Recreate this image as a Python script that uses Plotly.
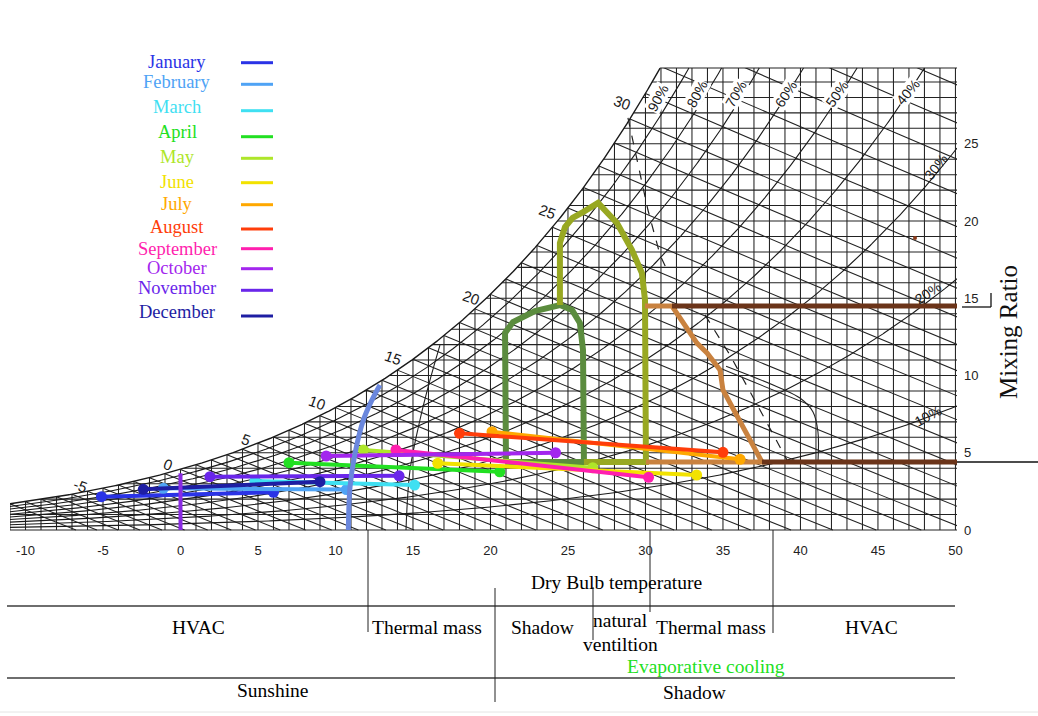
import numpy as np
import plotly.graph_objects as go

# ---------------- data ----------------
MONTHS = ["January", "February", "March", "April", "May", "June", "July",
          "August", "September", "October", "November", "December"]
MONTH_COLORS = ["#2a33e6", "#4fa3f5", "#3fe0f2", "#22e022", "#aee62a", "#f2e200",
                "#ffa800", "#ff3d0a", "#ff1fae", "#a326ee", "#6a26ea", "#1e1ea3"]
T_LOW = [-5.1, -1.1, 4.8, 7.0, 11.8, 16.6, 20.1, 18.0, 13.9, 9.4, 1.9, -2.4]
W_LOW = [2.16, 2.70, 3.17, 4.36, 5.18, 4.32, 6.36, 6.26, 5.18, 4.79, 3.45, 2.63]
T_HIGH = [6.0, 10.7, 15.1, 20.6, 26.6, 33.3, 36.1, 35.0, 30.2, 24.2, 14.1, 9.0]
W_HIGH = [2.44, 2.62, 2.91, 3.77, 4.03, 3.56, 4.58, 5.03, 3.41, 5.00, 3.51, 3.13]

X_TICKS = list(range(-10, 51, 5))
Y_TICKS = [0, 5, 10, 15, 20, 25]
RH_LEVELS = [10, 20, 30, 40, 50, 60, 70, 80, 90]
WB_LABELS = [-5, 0, 5, 10, 15, 20, 25, 30]

# design zones (dry bulb C, mixing ratio g/kg)
GREEN_T = [21.0, 20.94, 21.45, 22.87, 24.48, 25.26, 25.77, 25.97, 26.03, 21.0]
GREEN_W = [4.40, 12.75, 13.46, 14.17, 14.56, 14.24, 13.40, 11.65, 4.40, 4.40]
OLIVE_T = [24.48, 24.48, 24.81, 25.30, 25.97, 26.94, 28.16, 29.13, 29.77, 29.97, 30.03, 26.03]
OLIVE_W = [14.56, 18.58, 19.61, 20.20, 20.58, 21.17, 19.87, 18.12, 16.63, 14.89, 4.40, 4.40]
TAN_T = [29.97, 31.71, 33.32, 33.97, 34.81, 35.0, 37.52, 30.03]
TAN_W = [14.50, 14.50, 12.10, 11.46, 10.36, 9.06, 4.40, 4.40]
BROWN_UPPER = [31.71, 50.1, 14.5]   # t0, t1, w
BROWN_LOWER = [37.52, 50.1, 4.4]
BLUE_CURVE_T = [10.83, 10.94, 11.26, 11.80, 12.35, 12.87]
BLUE_CURVE_W = [0.0, 2.80, 4.96, 7.12, 8.41, 9.39]
FREEZE_T = [0, 0]
FREEZE_W = [0, 3.67]

# thin lines printed on the original chart
CURVE_A_T = [16.74, 16.10, 15.45, 14.81, 14.55]
CURVE_A_W = [11.97, 9.71, 7.12, 3.88, 0.0]
CURVE_B_T = [35.2, 38.68, 39.97, 40.81, 41.13, 41.13]
CURVE_B_W = [10.6, 9.19, 8.54, 7.64, 6.34, 4.40]
DASH_C_T = [33.84, 35.45, 37.39, 39.13]
DASH_C_W = [13.92, 11.33, 7.77, 4.53]
DASH_D_T = [28.87, 29.45, 30.16, 30.94, 31.45]
DASH_D_W = [26.67, 23.95, 20.71, 17.80, 16.70]

P_ATM = 97.5     # kPa, chart pressure
W_TOP = 29.9     # top edge of chart
T_MIN, T_MAX = -11.0, 50.1


def pws(t):
    t = np.asarray(t, dtype=float)
    return 0.61094 * np.exp(17.625 * t / (t + 243.04))


def w_of(t, phi=1.0):
    p = phi * pws(t)
    return 622.0 * p / (P_ATM - p)


def clip_top(t, w):
    keep = w <= W_TOP
    tt, ww = list(t[keep]), list(w[keep])
    if not keep.all():
        tt.append(float(np.interp(W_TOP, w, t)))
        ww.append(W_TOP)
    return tt, ww


W_, H_ = 1038, 716
L_, R_ = 10, 81


def PX(px):
    return (px - L_) / (W_ - L_ - R_)


def PY(py):
    return (H_ - py) / H_


fig = go.Figure()
GRID = dict(color="#222222", width=1.05)


def add_line(x, y, **kw):
    fig.add_trace(go.Scatter(x=x, y=y, mode="lines", hoverinfo="skip",
                             showlegend=False, **kw))


# grid: dry-bulb verticals & mixing-ratio horizontals
gx, gy = [], []
for t in range(-11, 51):
    gx += [t, t, None]
    gy += [0, W_TOP, None]
for w in range(0, 30):
    gx += [T_MIN, T_MAX, None]
    gy += [w, w, None]
add_line(gx, gy, line=GRID)

# wet-bulb lines
wx, wy = [], []
for tw in range(-11, 36):
    ws = float(w_of(tw))
    t0 = tw + (2501 - 2.326 * tw) * ws / 1000 / 1.006
    t = np.linspace(tw, min(t0, T_MAX + 0.5), 14)
    w = ((2501 - 2.326 * tw) * ws / 1000 - 1.006 * (t - tw)) / (2501 + 1.86 * t - 4.186 * tw) * 1000
    wx += list(t) + [None]
    wy += list(np.maximum(w, 0)) + [None]
add_line(wx, wy, line=GRID)

# white mask above saturation
ts = np.arange(T_MIN, 32, 0.05)
st, sw = clip_top(ts, w_of(ts))
mx = [T_MIN - 1] + st + [T_MAX + 1, T_MAX + 1, T_MIN - 1]
my = [sw[0]] + sw + [W_TOP, 40, 40]
fig.add_trace(go.Scatter(x=mx, y=my, mode="lines", fill="toself", fillcolor="white",
                         line=dict(width=0, color="white"), hoverinfo="skip", showlegend=False))
add_line(st, sw, line=dict(color="#1a1a1a", width=1.4))
add_line([st[-1], T_MAX], [W_TOP, W_TOP], line=GRID)

# relative humidity curves
tr = np.arange(T_MIN, T_MAX + 0.001, 0.1)
for rh in RH_LEVELS:
    a, b = clip_top(tr, w_of(tr, rh / 100))
    add_line(a, b, line=dict(color="#1a1a1a", width=1.1))

# thin printed lines
add_line(CURVE_A_T, CURVE_A_W, line=dict(color="#222", width=1.1, shape="spline"))
add_line(CURVE_B_T, CURVE_B_W, line=dict(color="#222", width=1.1, shape="spline"))
add_line(DASH_C_T, DASH_C_W, line=dict(color="#222", width=1.2, dash="dash"))
add_line(DASH_D_T, DASH_D_W, line=dict(color="#222", width=1.2, dash="dash"))

# zones
add_line(GREEN_T, GREEN_W, line=dict(color="#5b8c3e", width=6))
add_line(OLIVE_T, OLIVE_W, line=dict(color="#98a822", width=6))
add_line(TAN_T, TAN_W, line=dict(color="#c9823f", width=5))
for t0, t1, w in (BROWN_UPPER, BROWN_LOWER):
    add_line([t0, t1], [w, w], line=dict(color="#6b3419", width=5))

# monthly lines
for i, m in enumerate(MONTHS):
    fig.add_trace(go.Scatter(x=[T_LOW[i], T_HIGH[i]], y=[W_LOW[i], W_HIGH[i]],
                             mode="lines+markers", name=m, showlegend=False,
                             line=dict(color=MONTH_COLORS[i], width=4),
                             marker=dict(color=MONTH_COLORS[i], size=11)))

add_line(BLUE_CURVE_T, BLUE_CURVE_W, line=dict(color="#6a87dd", width=5, shape="spline"))
add_line(FREEZE_T, FREEZE_W, line=dict(color="#8a2be2", width=4))
fig.add_trace(go.Scatter(x=[47.39], y=[18.9], mode="markers", hoverinfo="skip", showlegend=False,
                         marker=dict(color="#8b3a1a", size=4)))

shapes, ann = [], []
SERIF = "Liberation Serif, Times New Roman, serif"
SANS = "Liberation Sans, Arial, sans-serif"


def text(px, py, s, size, color="#000", family=SERIF, angle=0, bg=None):
    d = dict(x=PX(px), y=PY(py), text=s, showarrow=False, xref="paper", yref="paper",
             xanchor="center", yanchor="middle", textangle=angle,
             font=dict(family=family, size=size, color=color))
    if bg:
        d.update(bgcolor=bg, borderpad=0)
    ann.append(d)


# legend
LEG_Y = [62.7, 84.3, 110.7, 136.7, 158.3, 182.7, 204.7, 229, 248.7, 268.7, 290.3, 316]
TXT_Y = [61.7, 81.7, 106.7, 131.7, 156.7, 181.7, 204, 226.7, 249.3, 268.3, 288.3, 311.7]
for i, m in enumerate(MONTHS):
    text(177, TXT_Y[i], m, 18.5, MONTH_COLORS[i])
    shapes.append(dict(type="line", xref="paper", yref="paper", x0=PX(241), x1=PX(273),
                       y0=PY(LEG_Y[i]), y1=PY(LEG_Y[i]), line=dict(color=MONTH_COLORS[i], width=3)))

# wet bulb labels on saturation curve
WB_POS = [(80, 485), (168, 464), (246, 439), (317, 402), (393, 357), (471, 297), (547, 212), (622, 102)]
for lab, (px, py) in zip(WB_LABELS, WB_POS):
    text(px, py, str(lab), 15, "#1a1a1a", SANS, 20)

RH_POS = {90: (658, 98, -62, True), 80: (697, 94, -62, True), 70: (736, 94, -60, True),
          60: (786, 94, -57, True), 50: (837, 94, -55, True), 40: (908, 92, -50, True),
          30: (936, 167, -52, False), 20: (928, 293, -33, False), 10: (928, 416, -28, False)}
for rh in RH_LEVELS:
    px, py, ang, use_bg = RH_POS[rh]
    text(px, py, f"{rh}%", 14, "#1a1a1a", SANS, ang, bg="white" if use_bg else None)

text(1008, 332, "Mixing Ratio", 25, "#111", SERIF, -90)

# right-side marks
shapes.append(dict(type="line", xref="paper", yref="paper", x0=PX(957), x1=PX(1038),
                   y0=PY(462), y1=PY(462), line=dict(color="#111", width=1.5)))
shapes.append(dict(type="line", xref="paper", yref="paper", x0=PX(962), x1=PX(991),
                   y0=PY(307), y1=PY(307), line=dict(color="#111", width=1.3)))
shapes.append(dict(type="line", xref="paper", yref="paper", x0=PX(991), x1=PX(991),
                   y0=PY(293), y1=PY(307), line=dict(color="#111", width=1.3)))

# table below chart
for py in (606, 678):
    shapes.append(dict(type="line", xref="paper", yref="paper", x0=PX(7), x1=PX(955),
                       y0=PY(py), y1=PY(py), line=dict(color="#6e6e6e", width=2)))
for px, y0, y1 in [(368, 530, 632), (495, 588, 702), (593, 587, 640), (650, 530, 612), (773, 530, 633)]:
    shapes.append(dict(type="line", xref="paper", yref="paper", x0=PX(px), x1=PX(px),
                       y0=PY(y0), y1=PY(y1), line=dict(color="#222", width=1)))
shapes.append(dict(type="line", xref="paper", yref="paper", x0=PX(0), x1=PX(1038),
                   y0=PY(712), y1=PY(712), line=dict(color="#e4e4e4", width=1)))

TABLE = [("Dry Bulb temperature", 616, 582, "#000"), ("HVAC", 198, 627, "#000"),
         ("Thermal mass", 427, 627, "#000"), ("Shadow", 542, 627, "#000"),
         ("natural", 620, 620, "#000"), ("ventiltion", 620, 644, "#000"),
         ("Thermal mass", 711, 627, "#000"), ("HVAC", 871, 627, "#000"),
         ("Evaporative cooling", 706, 666, "#22e022"), ("Sunshine", 273, 690, "#000"),
         ("Shadow", 694, 692, "#000")]
for txt, px, py, col in TABLE:
    text(px, py, txt, 19.5, col)

fig.update_layout(
    width=W_, height=H_, margin=dict(l=L_, r=R_, t=0, b=0),
    paper_bgcolor="white", plot_bgcolor="white", showlegend=False,
    shapes=shapes, annotations=ann,
    xaxis=dict(range=[T_MIN, T_MAX], anchor="free", position=(H_ - 530) / H_,
               tickvals=X_TICKS, ticktext=[str(v) for v in X_TICKS], showgrid=False,
               zeroline=False, showline=False, ticks="", ticklabelstandoff=11,
               tickfont=dict(family="Liberation Sans Narrow, Liberation Sans, Arial", size=13, color="#222")),
    yaxis=dict(range=[(530 - H_) / 15.45, 530 / 15.45], side="right", anchor="x",
               tickvals=Y_TICKS, ticktext=[str(v) for v in Y_TICKS], showgrid=False,
               zeroline=False, showline=False, ticks="", ticklabelstandoff=6,
               tickfont=dict(family="Liberation Sans Narrow, Liberation Sans, Arial", size=13, color="#222")),
)
fig.write_html("out.html")
